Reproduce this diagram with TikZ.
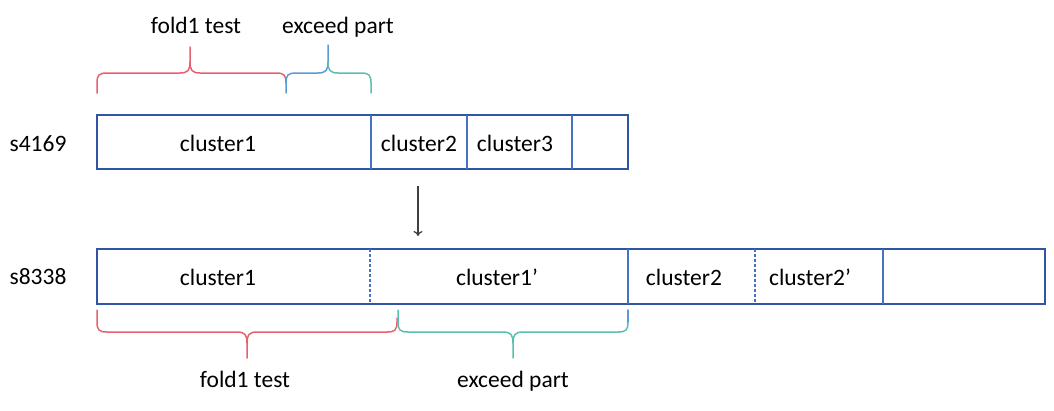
\documentclass[tikz,border=0pt]{standalone}
\usepackage{fontspec}
\setmainfont{Carlito}
\usetikzlibrary{arrows.meta}
\definecolor{boxblue}{HTML}{2F55A4}
\definecolor{divblue}{HTML}{4472C4}
\definecolor{bred}{HTML}{E8606F}
\definecolor{bteal}{HTML}{5BBFB0}
\definecolor{bblue}{HTML}{5B9BD5}
\definecolor{arrowgray}{HTML}{404040}
\begin{document}
\begin{tikzpicture}[x=1pt,y=-1pt,
  lbl/.style={anchor=base,inner sep=0pt,font=\fontsize{23.5}{26}\selectfont},
  rowbox/.style={draw=boxblue,line width=1.3pt,inner sep=0pt},
  divider/.style={draw=divblue,line width=1.1pt},
  dashdiv/.style={divider,dash pattern=on 3pt off 2pt},
  brace/.style={line width=1.5pt,line cap=round}]
\useasboundingbox (0,0) rectangle (1054,410);
% rows
\node[rowbox,minimum width=531pt,minimum height=54pt] (rowA) at (362.5,142) {};
\node[rowbox,minimum width=948pt,minimum height=55pt] (rowB) at (571,276.5) {};
% dividers top row
\coordinate (a1t) at (371,115); \coordinate (a1b) at (371,169);
\coordinate (a2t) at (467,115); \coordinate (a2b) at (467,169);
\coordinate (a3t) at (572,115); \coordinate (a3b) at (572,169);
\draw[divider] (a1t) -- (a1b);
\draw[divider] (a2t) -- (a2b);
\draw[divider] (a3t) -- (a3b);
% dividers bottom row
\coordinate (b1t) at (370,249); \coordinate (b1b) at (370,304);
\coordinate (b2t) at (628,249); \coordinate (b2b) at (628,304);
\coordinate (b3t) at (755,249); \coordinate (b3b) at (755,304);
\coordinate (b4t) at (883,249); \coordinate (b4b) at (883,304);
\draw[dashdiv] (b1t) -- (b1b);
\draw[divider] (b2t) -- (b2b);
\draw[dashdiv] (b3t) -- (b3b);
\draw[divider] (b4t) -- (b4b);
% row labels
\node[lbl] (sA) at (38,151) {s4169};
\node[lbl] (sB) at (38,284) {s8338};
% cell texts
\node[lbl] (cA1) at (218,151) {cluster1};
\node[lbl] (cA2) at (419,151) {cluster2};
\node[lbl] (cA3) at (515,151) {cluster3};
\node[lbl] (cB1) at (218,285) {cluster1};
\node[lbl] (cB2) at (497,285) {cluster1’};
\node[lbl] (cB3) at (684,285) {cluster2};
\node[lbl] (cB4) at (810,285) {cluster2’};
% arrow
\coordinate (arS) at (418,186);
\coordinate (arE) at (418,236);
\draw[arrowgray,line width=1.3pt,-{To[length=5pt,width=9pt]}] (arS) -- (arE);
% top braces
\draw[brace,bred] (97,93) -- (97,83) .. controls (97,75) and (99,73) .. (107,73)
  -- (180,73) .. controls (188,73) and (190,70) .. (190,62) -- (190,47);
\draw[brace,bred] (190,62) .. controls (190,70) and (192,73) .. (200,73)
  -- (276,73) .. controls (284,73) and (286,75) .. (286,83);
\draw[brace,bblue] (286,93) -- (286,83) .. controls (286,75) and (288,73) .. (296,73)
  -- (318,73) .. controls (326,73) and (328,70) .. (328,62) -- (328,45);
\draw[brace,bteal] (328,62) .. controls (328,70) and (330,73) .. (338,73)
  -- (361,73) .. controls (369,73) and (371,75) .. (371,83) -- (371,93);
\node[lbl] (tA) at (196,33) {fold1 test};
\node[lbl] (tB) at (338,33) {exceed part};
% bottom braces
\draw[brace,bred] (97,310) -- (97,322) .. controls (97,330) and (99,332) .. (107,332)
  -- (237,332) .. controls (245,332) and (247,335) .. (247,343) -- (247,358);
\draw[brace,bred] (247,343) .. controls (247,335) and (249,332) .. (257,332)
  -- (387,332) .. controls (395,332) and (397,330) .. (397,322) -- (397,318);
\draw[brace,bteal] (398,310) -- (398,322) .. controls (398,330) and (400,332) .. (408,332)
  -- (503,332) .. controls (511,332) and (513,335) .. (513,343) -- (513,358);
\draw[brace,bteal] (513,343) .. controls (513,335) and (515,332) .. (523,332)
  -- (618,332) .. controls (626,332) and (628,330) .. (628,322);
\draw[brace,bblue] (628,322) -- (628,310);
\node[lbl] (bA) at (245,387) {fold1 test};
\node[lbl] (bB) at (513,387) {exceed part};
\end{tikzpicture}
\end{document}
